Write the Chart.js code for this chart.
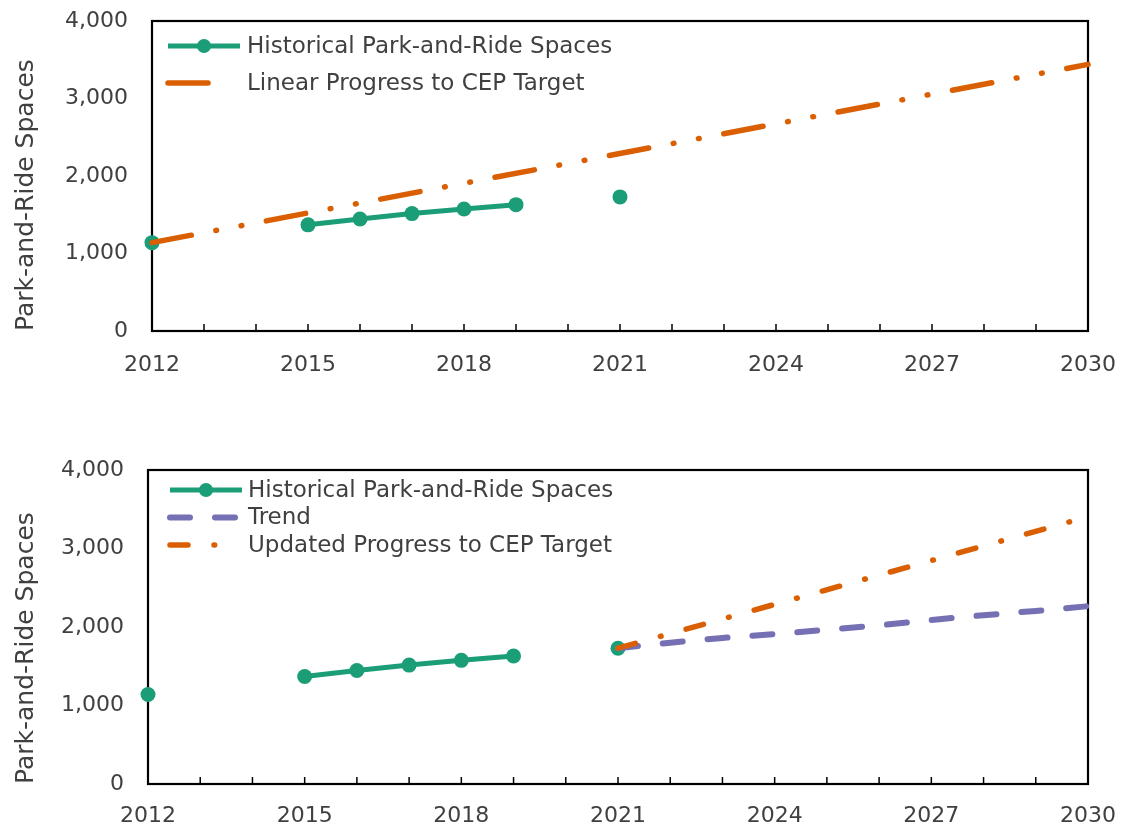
<!DOCTYPE html>
<html>
<head>
<meta charset="utf-8">
<title>Park-and-Ride Spaces</title>
<script src="https://cdn.jsdelivr.net/npm/chart.js@4.4.1/dist/chart.umd.min.js"></script>
<style>
  body { margin: 0; background: #fff; }
  #topBox { position: absolute; left: 0; top: 0; }
  #bottomBox { position: absolute; left: 0; top: 420px; }
</style>
</head>
<body>
<div id="topBox"><canvas id="topChart" width="1126" height="400"></canvas></div>
<div id="bottomBox"><canvas id="bottomChart" width="1126" height="411"></canvas></div>
<script>
// historical counts (null = no count that year)
const histYears = [2012, 2013, 2014, 2015, 2016, 2017, 2018, 2019, 2020, 2021];
const histSpaces = [1140, null, null, 1370, 1445, 1515, 1575, 1630, null, 1730];

// straight line from 2012 to the CEP target
const linearYears = [2012, 2030];
const linearSpaces = [1140, 3440];

// trend from 2021 on
const trendYears = [2021, 2022, 2023, 2024, 2025, 2026, 2027, 2028, 2029, 2030];
const trendSpaces = [1730, 1800, 1860, 1910, 1965, 2020, 2090, 2150, 2205, 2265];

// revised path from 2021 to the CEP target
const updatedYears = [2021, 2030];
const updatedSpaces = [1730, 3405];

const labelYears = [2012, 2015, 2018, 2021, 2024, 2027, 2030];
const yTicks = [0, 1000, 2000, 3000, 4000];

const GREEN = '#1b9e77';
const ORANGE = '#d95f02';
const PURPLE = '#7570b3';
const TEXT = '#404040';
const FONT = "'DejaVu Sans', sans-serif";

const DASH_LINEAR = [40, 25, 0.7, 25, 0.7, 25];
const DASH_UPDATED = [18, 26, 0.7, 26];
const DASH_TREND = [20, 25];

function points(xs, ys) {
  return xs.map((x, i) => ({ x: x, y: ys[i] }));
}

// the layout padding alone decides where the plot area sits
function noLabelPadding(s) {
  s.paddingTop = 0;
  s.paddingBottom = 0;
  s.paddingLeft = 0;
  s.paddingRight = 0;
}

// frame around the plot area plus small inward year ticks
const frame = {
  id: 'frame',
  beforeDatasetsDraw(chart) {
    const ctx = chart.ctx;
    const a = chart.chartArea;
    const xs = chart.scales.x;
    ctx.save();
    ctx.strokeStyle = '#000';
    ctx.lineWidth = 1.5;
    xs.ticks.forEach(t => {
      const px = xs.getPixelForValue(t.value);
      ctx.beginPath();
      ctx.moveTo(px, a.bottom);
      ctx.lineTo(px, a.bottom - 7);
      ctx.stroke();
    });
    ctx.lineWidth = 2.2;
    ctx.strokeRect(a.left, a.top, a.right - a.left, a.bottom - a.top);
    ctx.restore();
  }
};

// legend drawn inside the plot, top left
const insideLegend = {
  id: 'insideLegend',
  afterDraw(chart, args, opts) {
    const ctx = chart.ctx;
    ctx.save();
    opts.items.forEach((item, i) => {
      const y = opts.y + i * opts.rowGap;
      ctx.strokeStyle = item.color;
      ctx.lineWidth = item.width;
      ctx.lineCap = item.dash ? 'round' : 'butt';
      ctx.setLineDash(item.dash || []);
      ctx.beginPath();
      ctx.moveTo(opts.x, y);
      ctx.lineTo(opts.x + item.length, y);
      ctx.stroke();
      if (item.marker) {
        ctx.fillStyle = item.color;
        ctx.beginPath();
        ctx.arc(opts.x + item.length / 2, y, 7, 0, Math.PI * 2);
        ctx.fill();
      }
      ctx.setLineDash([]);
      ctx.fillStyle = TEXT;
      ctx.font = '23px ' + FONT;
      ctx.textBaseline = 'middle';
      ctx.textAlign = 'left';
      ctx.fillText(item.label, opts.textX, y + 1);
    });
    ctx.restore();
  }
};

function histDataset() {
  return {
    label: 'Historical Park-and-Ride Spaces',
    data: points(histYears, histSpaces),
    borderColor: GREEN,
    backgroundColor: GREEN,
    borderWidth: 5,
    pointRadius: 7.5,
    pointHoverRadius: 7.5,
    pointBorderWidth: 0,
    pointBackgroundColor: GREEN,
    spanGaps: false,
    order: 2,
    clip: false
  };
}

function scales(yWidth, xHeight, labelPad) {
  return {
    x: {
      type: 'linear',
      min: 2012,
      max: 2030,
      grid: { display: false, drawTicks: false },
      border: { display: false },
      afterFit: s => { s.height = xHeight; noLabelPadding(s); },
      ticks: {
        stepSize: 1,
        autoSkip: false,
        maxRotation: 0,
        padding: labelPad,
        color: TEXT,
        font: { family: FONT, size: 22 },
        callback: v => labelYears.includes(v) ? String(v) : ''
      }
    },
    y: {
      min: 0,
      max: 4000,
      grid: { display: false, drawTicks: false },
      border: { display: false },
      afterFit: s => { s.width = yWidth; noLabelPadding(s); },
      afterBuildTicks: s => { s.ticks = yTicks.map(v => ({ value: v })); },
      title: {
        display: true,
        text: 'Park-and-Ride Spaces',
        align: 'start',
        color: TEXT,
        font: { family: FONT, size: 25 },
        padding: { top: 11, bottom: 0 }
      },
      ticks: {
        padding: 24,
        color: TEXT,
        font: { family: FONT, size: 22 },
        callback: v => v.toLocaleString('en-US')
      }
    }
  };
}

const common = {
  responsive: false,
  animation: false,
  events: [],
  plugins: { legend: { display: false }, tooltip: { enabled: false } }
};

new Chart(document.getElementById('topChart'), {
  type: 'line',
  data: {
    datasets: [
      {
        label: 'Linear Progress to CEP Target',
        data: points(linearYears, linearSpaces),
        borderColor: ORANGE,
        borderWidth: 5.5,
        borderDash: DASH_LINEAR,
        borderCapStyle: 'round',
        pointRadius: 0,
        order: 0,
        clip: false
      },
      histDataset()
    ]
  },
  options: Object.assign({}, common, {
    layout: { padding: { top: 21, right: 38, left: 0, bottom: 0 } },
    scales: scales(152, 69, 21),
    plugins: Object.assign({}, common.plugins, {
      insideLegend: {
        x: 168, y: 46, rowGap: 37, textX: 247,
        items: [
          { label: 'Historical Park-and-Ride Spaces', color: GREEN, width: 5, length: 72, marker: true },
          { label: 'Linear Progress to CEP Target', color: ORANGE, width: 5.5, length: 46, dash: DASH_LINEAR }
        ]
      }
    })
  }),
  plugins: [frame, insideLegend]
});

new Chart(document.getElementById('bottomChart'), {
  type: 'line',
  data: {
    datasets: [
      {
        label: 'Updated Progress to CEP Target',
        data: points(updatedYears, updatedSpaces),
        borderColor: ORANGE,
        borderWidth: 5.5,
        borderDash: DASH_UPDATED,
        borderCapStyle: 'round',
        pointRadius: 0,
        order: 0,
        clip: false
      },
      {
        label: 'Trend',
        data: points(trendYears, trendSpaces),
        borderColor: PURPLE,
        borderWidth: 6,
        borderDash: DASH_TREND,
        borderCapStyle: 'round',
        pointRadius: 0,
        order: 1,
        clip: false
      },
      histDataset()
    ]
  },
  options: Object.assign({}, common, {
    layout: { padding: { top: 50, right: 38, left: 0, bottom: 0 } },
    scales: scales(148, 47, 19),
    plugins: Object.assign({}, common.plugins, {
      insideLegend: {
        x: 170, y: 70, rowGap: 27.5, textX: 248,
        items: [
          { label: 'Historical Park-and-Ride Spaces', color: GREEN, width: 5, length: 72, marker: true },
          { label: 'Trend', color: PURPLE, width: 6, length: 68, dash: DASH_TREND },
          { label: 'Updated Progress to CEP Target', color: ORANGE, width: 5.5, length: 50, dash: DASH_UPDATED }
        ]
      }
    })
  }),
  plugins: [frame, insideLegend]
});
</script>
</body>
</html>
